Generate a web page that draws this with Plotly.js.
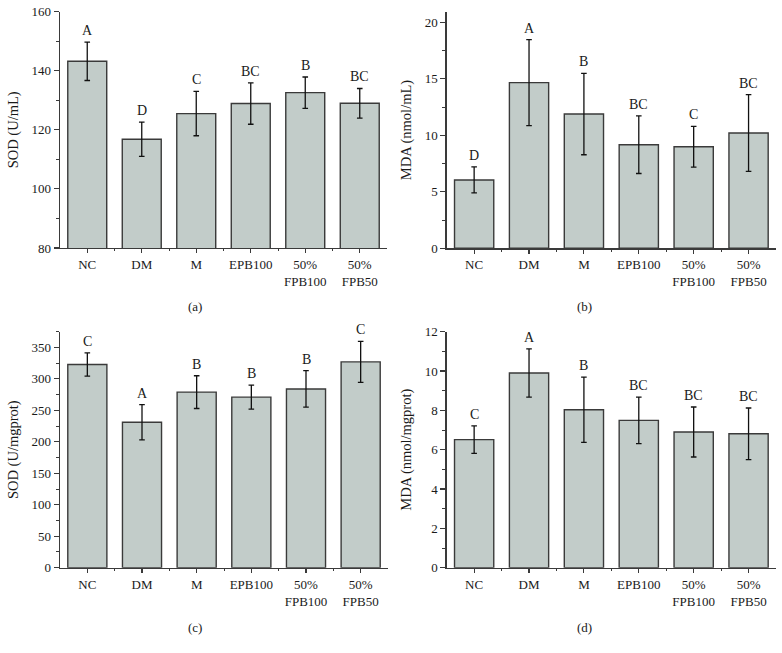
<!DOCTYPE html>
<html>
<head>
<meta charset="utf-8">
<script src="https://cdn.plot.ly/plotly-3.0.1.min.js"></script>
<style>html,body{margin:0;padding:0;background:#fff;}#chart{width:782px;height:653px;}</style>
</head>
<body>
<div id="chart"></div>
<script>
// ---- data ----
const categories = ['NC', 'DM', 'M', 'EPB100', '50%<br>FPB100', '50%<br>FPB50'];

const sodSerum = [143.2, 116.8, 125.5, 128.9, 132.6, 129.0];
const sodSerumErr = [6.5, 5.8, 7.5, 7.0, 5.3, 5.0];
const sodSerumLetters = ['A', 'D', 'C', 'BC', 'B', 'BC'];

const mdaSerum = [6.05, 14.66, 11.88, 9.17, 8.99, 10.2];
const mdaSerumErr = [1.15, 3.8, 3.6, 2.55, 1.8, 3.4];
const mdaSerumLetters = ['D', 'A', 'B', 'BC', 'C', 'BC'];

const sodTissue = [323, 231, 279, 271, 284, 327];
const sodTissueErr = [18.5, 28, 26, 19, 29, 32.5];
const sodTissueLetters = ['C', 'A', 'B', 'B', 'B', 'C'];

const mdaTissue = [6.51, 9.9, 8.03, 7.49, 6.9, 6.81];
const mdaTissueErr = [0.7, 1.23, 1.66, 1.18, 1.27, 1.31];
const mdaTissueLetters = ['C', 'A', 'B', 'BC', 'BC', 'BC'];

const panelLabels = ['(a)', '(b)', '(c)', '(d)'];
const yTitles = ['SOD (U/mL)', 'MDA (nmol/mL)', 'SOD (U/mgprot)', 'MDA (nmol/mgprot)'];

// ---- build ----
const FONT = 'Liberation Serif, Times New Roman, serif';
const TXT = '#1a1a1a';
const idx = categories.map((c, i) => i);
const bounds = categories.slice(1).map((c, i) => i + 0.5);

const panels = [
  {vals: sodSerum, err: sodSerumErr, letters: sodSerumLetters, range: [80, 160], dtick: 20, minor: 10},
  {vals: mdaSerum, err: mdaSerumErr, letters: mdaSerumLetters, range: [0, 20.94], dtick: 5, minor: 2.5},
  {vals: sodTissue, err: sodTissueErr, letters: sodTissueLetters, range: [0, 375], dtick: 50, minor: 25},
  {vals: mdaTissue, err: mdaTissueErr, letters: mdaTissueLetters, range: [0, 12], dtick: 2, minor: 1}
];

const W = 782, H = 653;
const xDom = [[60 / W, 387 / W], [446.7 / W, 776 / W], [60 / W, 388 / W], [446.7 / W, 776 / W]];
const yDom = [[1 - 248 / H, 1 - 11.7 / H], [1 - 248.3 / H, 1 - 11.7 / H], [1 - 567.7 / H, 1 - 331.7 / H], [1 - 567.7 / H, 1 - 331.7 / H]];
const labelPos = [[195, 306], [584, 306], [195, 627], [584, 627]];

const traces = [];
const layout = {
  width: W, height: H,
  margin: {l: 0, r: 0, t: 0, b: 0},
  paper_bgcolor: '#fff', plot_bgcolor: '#fff',
  showlegend: false,
  font: {family: FONT, size: 13, color: TXT},
  annotations: []
};

panels.forEach((p, k) => {
  const n = k + 1;
  const xa = n === 1 ? 'x' : 'x' + n;
  const ya = n === 1 ? 'y' : 'y' + n;
  traces.push({
    type: 'bar', x: idx, y: p.vals, xaxis: xa, yaxis: ya,
    width: 0.715,
    marker: {color: 'rgb(194,204,201)', line: {color: '#3a3a3a', width: 1.4}},
    error_y: {type: 'data', array: p.err, visible: true, color: '#111', thickness: 1.3, width: 2.8},
    hoverinfo: 'skip'
  });
  const axisCommon = {
    showline: true, linecolor: '#3a3a3a', linewidth: 1.3,
    showgrid: false, zeroline: false, ticks: 'outside',
    tickcolor: '#3a3a3a', tickwidth: 1.1,
    tickfont: {family: FONT, size: 13, color: TXT}
  };
  layout['xaxis' + (n === 1 ? '' : n)] = Object.assign({}, axisCommon, {
    domain: xDom[k], anchor: ya, range: [-0.5, 5.5],
    tickmode: 'array', tickvals: idx, ticktext: categories, ticklen: 4,
    minor: {tickmode: 'array', tickvals: bounds, ticks: 'outside', ticklen: 2, tickcolor: '#3a3a3a', tickwidth: 1}
  });
  layout['yaxis' + (n === 1 ? '' : n)] = Object.assign({}, axisCommon, {
    domain: yDom[k], anchor: xa, range: p.range,
    tick0: p.range[0], dtick: p.dtick, ticklen: 5,
    minor: {dtick: p.minor, ticks: 'outside', ticklen: 3, tickcolor: '#3a3a3a', tickwidth: 1},
    title: {text: yTitles[k], font: {family: FONT, size: 14.5, color: TXT}, standoff: 9}
  });
  p.letters.forEach((L, i) => {
    layout.annotations.push({
      xref: xa, yref: ya, x: idx[i], y: p.vals[i] + p.err[i],
      text: L, showarrow: false, yanchor: 'bottom', yshift: 2,
      font: {family: FONT, size: 14, color: TXT}
    });
  });
  layout.annotations.push({
    xref: 'paper', yref: 'paper', x: labelPos[k][0] / W, y: 1 - labelPos[k][1] / H,
    text: panelLabels[k], showarrow: false, xanchor: 'center', yanchor: 'middle',
    font: {family: FONT, size: 13, color: TXT}
  });
});

Plotly.newPlot('chart', traces, layout, {staticPlot: true, displayModeBar: false});
</script>
</body>
</html>
